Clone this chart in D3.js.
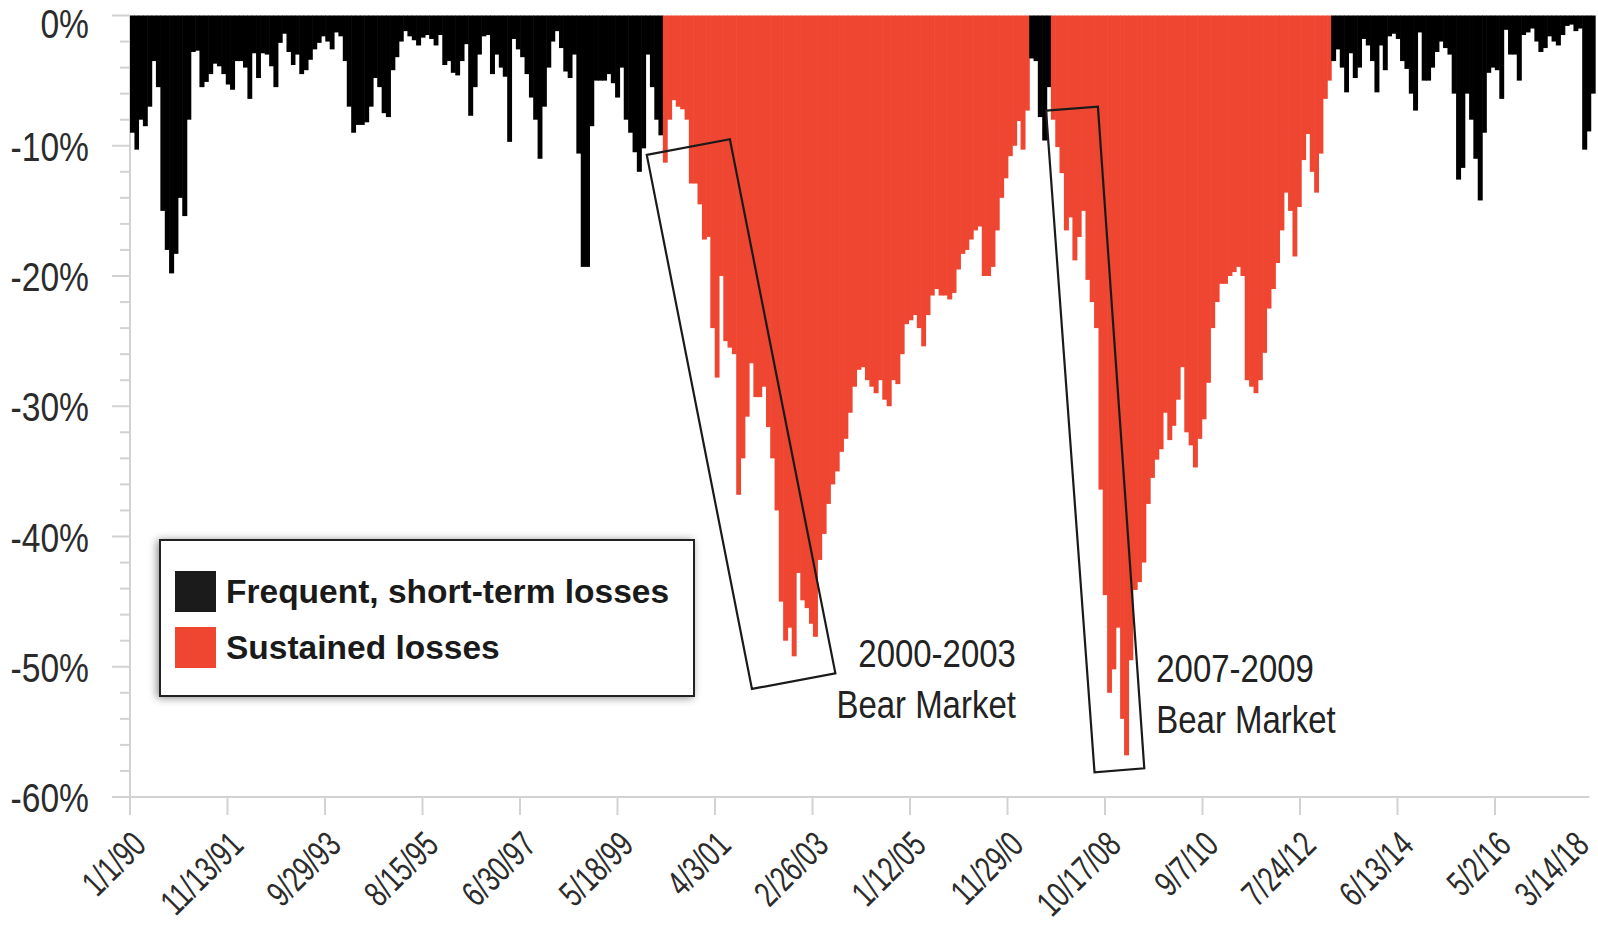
<!DOCTYPE html>
<html><head><meta charset="utf-8">
<script src="https://cdn.jsdelivr.net/npm/d3@7"></script>
<style>
html,body{margin:0;padding:0;background:#fff;overflow:hidden}
svg{display:block}
.narrow{font-family:'Liberation Sans',Arial,Helvetica,sans-serif;}
.bold{font-family:'Liberation Sans',Arial,Helvetica,sans-serif;font-weight:bold;}
</style></head><body>
<svg id="chart" width="1598" height="929"></svg>
<script>
// ---------------- DATA ----------------
const tickLabels = ["1/1/90","11/13/91","9/29/93","8/15/95","6/30/97","5/18/99","4/3/01","2/26/03",
  "1/12/05","11/29/0","10/17/08","9/7/10","7/24/12","6/13/14","5/2/16","3/14/18"];
const tickDates = ["1990-01-01","1991-11-13","1993-09-29","1995-08-15","1997-06-30","1999-05-18","2001-04-03","2003-02-26",
  "2005-01-12","2006-11-29","2008-10-17","2010-09-07","2012-07-24","2014-06-13","2016-05-02","2018-03-14"];
const yMajorTicks = [0,-10,-20,-30,-40,-50,-60];

// monthly drawdown from previous peak (%)
// 1990-01 .. 2000-03 : frequent, short-term losses
const shortTerm1 = [-9,-10.3,-8,-8.5,-7,-3.5,-5.5,-15,-18,-19.8,-18.3,-14,-15.4,-8,-2.8,-2.7,-5.5,-5.1,-4.5,-3.7,
  -3.9,-4.5,-5.3,-5.7,-3.5,-3.5,-4,-6.4,-2.9,-4.8,-2.9,-3,-3.9,-5.5,-2.1,-1.4,-2.8,-3.8,-3,-4.5,
  -4.2,-3.4,-2.6,-2.1,-1.6,-2,-2.6,-1.3,-1.6,-3.5,-7,-9,-8.4,-8.4,-8.2,-7,-4.8,-5.5,-7.5,-7.8,
  -4.2,-3.2,-2,-1.2,-1.6,-1.9,-2.3,-1.7,-1.5,-1.8,-2.3,-1.5,-3.8,-3.5,-4.4,-4.6,-3.5,-2.2,-7.7,-5.5,
  -3,-1.6,-1.5,-4.5,-3,-4,-4.7,-9.7,-1.8,-2.6,-3.2,-4.5,-6.3,-8,-11,-7,-4,-2,-1.2,-2.5,
  -4.3,-4.8,-3,-10.6,-19.3,-19.3,-8.5,-5,-5,-5,-4.5,-5.2,-6.3,-4,-8,-9,-10.5,-12,-10.2,-3,
  -5.5,-8,-9.2];
// 2000-04 .. 2007-04 : sustained losses (2000-2003 bear market)
const bear1 = [-11.3,-8,-6.5,-7,-7.2,-8,-12.9,-12.9,-14.5,-17.2,-17,-24,-27.8,-20,-25,-25.5,-26,-36.8,-34,-30.8,
  -26.7,-29.3,-29.3,-28.5,-31.6,-34,-38,-45,-48,-47,-49.2,-42.8,-44.9,-45.5,-46.7,-47.7,-41.8,-39.8,-37.5,-36,
  -35,-33.5,-32.5,-30.5,-28.5,-27.2,-27,-28,-28.5,-29,-28,-29.5,-30,-28,-28.3,-26,-23.7,-23.4,-23,-24,
  -25.4,-23,-21.5,-21,-21.5,-21.5,-21.8,-21.3,-19.5,-18.3,-18,-17.2,-16.5,-16.2,-20,-20,-19.3,-16.5,-14,-12.5,
  -10.8,-10,-8.1,-10.3,-7.3];
// 2007-05 .. 2007-09 : frequent, short-term losses
const shortTerm2 = [-3.3,-3.5,-7.8,-9.6,-5.5];
// 2007-10 .. 2013-02 : sustained losses (2007-2009 bear market)
const bear2 = [-8,-10.1,-12.1,-16.5,-15.5,-18.8,-17,-15,-20.3,-22,-24,-36.4,-44.5,-52,-50.2,-47,-54,-56.8,-49.5,-44.1,
  -43.5,-42,-37.5,-35.5,-34.1,-33.3,-30.5,-32.6,-31.5,-29.5,-27,-32,-33,-34.7,-32.5,-31,-28.2,-24,-22,-20.6,
  -20.6,-20,-19.7,-19.3,-20,-28,-28.5,-29,-28,-25.9,-22.5,-21,-19,-16.5,-13.6,-15,-18.5,-14.7,-11.1,-9.1,
  -12,-13.6,-10.6,-6.4,-5];
// 2013-03 .. 2018-03 : frequent, short-term losses
const shortTerm3 = [-3.5,-2.6,-4,-5.9,-2.9,-4.8,-4,-1.8,-2.3,-3.5,-5.9,-2.3,-4.2,-1.6,-1.4,-1.8,-3.5,-4.1,-6,-7.3,
  -1.3,-5,-5,-4,-2.8,-2,-2.5,-3,-6,-12.6,-11.7,-6,-8,-11,-14.2,-9,-4.4,-4,-4.2,-6.4,
  -1.1,-3,-3,-5,-1.5,-1.3,-1,-2,-2.8,-2.5,-1.6,-2,-2.3,-1.5,-0.8,-0.7,-1.2,-1,-10.3,-8.9,-6];

const segments = [
  {start:"1990-01-01", type:"short", values:shortTerm1},
  {start:"2000-04-01", type:"sustained", values:bear1},
  {start:"2007-05-01", type:"short", values:shortTerm2},
  {start:"2007-10-01", type:"sustained", values:bear2},
  {start:"2013-03-01", type:"short", values:shortTerm3}
];
const legendItems = [
  {label:"Frequent, short-term losses", type:"short"},
  {label:"Sustained losses", type:"sustained"}
];
const bearBoxes = [
  {corners:[["1999-12-10",-10.7],["2001-07-18",-9.5],["2003-08-06",-50.5],["2001-12-22",-51.7]],
   lines:["2000-2003","Bear Market"], at:["2007-01-27",-50.0], anchor:"end"},
  {corners:[["2007-08-28",-7.3],["2008-08-28",-7.0],["2009-07-22",-57.8],["2008-08-04",-58.1]],
   lines:["2007-2009","Bear Market"], at:["2009-10-15",-51.2], anchor:"start"}
];
const colors = {short:"#000000", sustained:"#EE4631"};
const legendColors = {short:"#1b1b1b", sustained:"#EE4631"};

// ---------------- CHART ----------------
const plotLeft = 130, plotRight = 1592.5, plotTop = 15.5, plotBottom = 797;
const narrowScale = 0.82, noteScale = 0.845, xLabelScale = 0.72;
const parse = d3.utcParse("%Y-%m-%d");
const svg = d3.select("#chart");

const x = d3.scaleUtc()
  .domain(tickDates.map(parse))
  .range(tickDates.map((d,i) => plotLeft + i*(plotRight-plotLeft)/(tickDates.length-1)));
const y = d3.scaleLinear().domain([-60,0]).range([plotBottom, plotTop]);

const gridColor = "#d2d2d2";

const bars = [];
segments.forEach(s => {
  const st = parse(s.start);
  s.values.forEach((v,i) => {
    const d0 = d3.utcMonth.offset(st, i), d1 = d3.utcMonth.offset(st, i+1);
    bars.push({d0, d1, v, type:s.type});
  });
});

const axisG = svg.append("g");
axisG.append("line").attr("x1",plotLeft).attr("x2",plotLeft).attr("y1",y(0)).attr("y2",plotBottom+18)
  .attr("stroke",gridColor).attr("stroke-width",2);
axisG.append("line").attr("x1",plotLeft-18).attr("x2",plotRight-3).attr("y1",plotBottom).attr("y2",plotBottom)
  .attr("stroke",gridColor).attr("stroke-width",2);
const minor = d3.range(0,-61,-2).filter(v => v % 10 !== 0);
axisG.selectAll(".ymin").data(minor).join("line")
  .attr("x1",plotLeft-10).attr("x2",plotLeft).attr("y1",d=>y(d)).attr("y2",d=>y(d))
  .attr("stroke",gridColor).attr("stroke-width",2);
axisG.selectAll(".ymaj").data(yMajorTicks).join("line")
  .attr("x1",plotLeft-18).attr("x2",plotLeft).attr("y1",d=>y(d)).attr("y2",d=>y(d))
  .attr("stroke",gridColor).attr("stroke-width",2);
axisG.selectAll(".xt").data(tickDates.slice(0,-1)).join("line")
  .attr("x1",d=>x(parse(d))).attr("x2",d=>x(parse(d))).attr("y1",plotBottom).attr("y2",plotBottom+18)
  .attr("stroke",gridColor).attr("stroke-width",2);

svg.append("g").selectAll("rect").data(bars).join("rect")
  .attr("x", d => x(d.d0))
  .attr("width", d => Math.max(0.5, x(d.d1) - x(d.d0) + 0.6))
  .attr("y", y(0))
  .attr("height", d => y(d.v) - y(0))
  .attr("fill", d => colors[d.type]);

// y labels (condensed)
svg.append("g").selectAll("text").data(yMajorTicks).join("text")
  .attr("class","narrow")
  .attr("transform", d => `translate(89,${Math.max(y(d) + 15, 38)}) scale(${narrowScale},1)`)
  .attr("text-anchor","end").attr("font-size",41).attr("fill","#2b2b2b")
  .text(d => d + "%");

// x labels (condensed, rotated)
svg.append("g").selectAll("text").data(tickDates).join("text")
  .attr("class","narrow")
  .attr("text-anchor","end").attr("font-size",36).attr("fill","#2b2b2b")
  .attr("transform", d => `translate(${Math.min(x(parse(d))+18, 1591)},${plotBottom+50}) rotate(-45) scale(${xLabelScale},1)`)
  .text((d,i) => tickLabels[i]);

// bear market boxes + notes
const line = d3.line().x(p => x(parse(p[0]))).y(p => y(p[1]));
bearBoxes.forEach(b => {
  svg.append("path").attr("d", line(b.corners) + "Z")
    .attr("fill","none").attr("stroke","#1a1a1a").attr("stroke-width",2.2);
  const g = svg.append("g").attr("transform", `translate(${x(parse(b.at[0]))},${y(b.at[1])}) scale(${noteScale},1)`);
  const t = g.append("text").attr("class","narrow")
    .attr("text-anchor", b.anchor).attr("font-size",39).attr("fill","#222");
  b.lines.forEach((l,i) => t.append("tspan").attr("x", 0).attr("dy", i ? 51 : 0).text(l));
});

// legend
const defs = svg.append("defs");
const f = defs.append("filter").attr("id","shadow").attr("x","-10%").attr("y","-20%").attr("width","120%").attr("height","140%");
f.append("feDropShadow").attr("dx",-2).attr("dy",1).attr("stdDeviation",4).attr("flood-color","#000").attr("flood-opacity",0.45);
const lg = svg.append("g");
lg.append("rect").attr("x",160).attr("y",540).attr("width",534).attr("height",156)
  .attr("fill","#fff").attr("stroke","#222").attr("stroke-width",2).attr("filter","url(#shadow)");
const li = lg.selectAll("g.it").data(legendItems).join("g").attr("transform",(d,i)=>`translate(175,${571+i*56})`);
li.append("rect").attr("width",41).attr("height",41).attr("fill",d=>legendColors[d.type]);
li.append("text").attr("class","bold").attr("x",51).attr("y",32).attr("font-size",33.5).attr("fill","#1a1a1a")
  .text(d=>d.label);
</script>
</body></html>
